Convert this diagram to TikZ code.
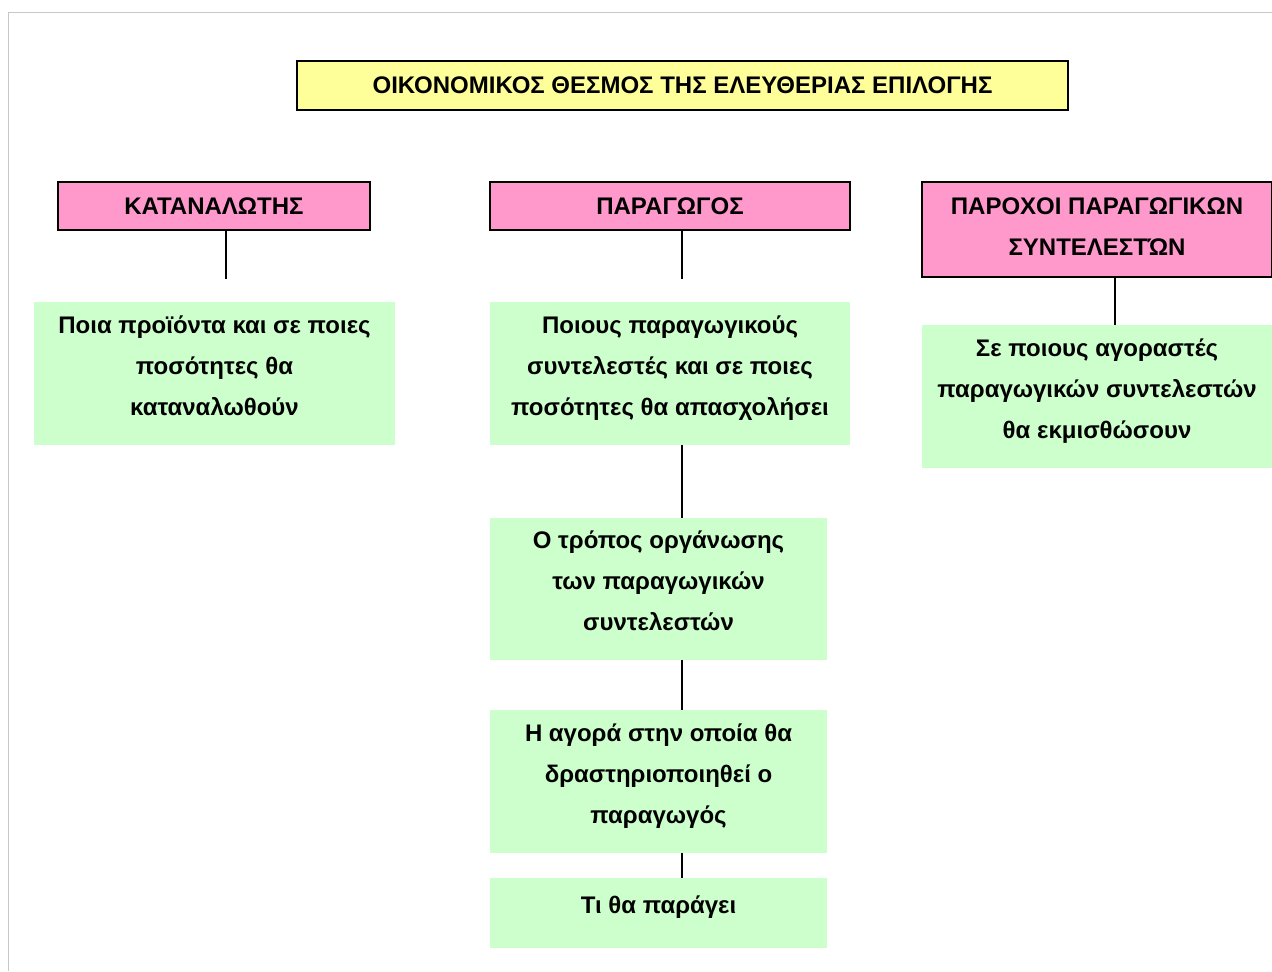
\documentclass[tikz,border=0pt]{standalone}
\usepackage{fontspec}
\setmainfont{Liberation Sans}
\definecolor{titleyellow}{HTML}{FFFF99}
\definecolor{rolepink}{HTML}{FF99CC}
\definecolor{taskgreen}{HTML}{CCFFCC}
\definecolor{framegray}{HTML}{C8C8C8}
\newcommand\padbelow[1]{\rule[-#1]{0pt}{#1}}
\begin{document}
\begin{tikzpicture}[x=0.5pt,y=-0.5pt,
 box/.style={inner sep=0pt,align=center,font=\bfseries\fontsize{12}{20.5}\selectfont},
 titlebox/.style={box,draw,line width=1pt,fill=titleyellow},
 rolebox/.style={box,draw,line width=1pt,fill=rolepink},
 taskbox/.style={box,fill=taskgreen,execute at end node=\padbelow{8pt}},
 link/.style={line width=1pt}]
 \useasboundingbox (0,0) rectangle (1272,971);
 \draw[framegray,line width=0.5pt](1272,12)--(8,12)--(8,971);
 \coordinate (katcol) at (226,0);
 \coordinate (prodcol) at (682,0);
 \coordinate (provcol) at (1115,0);
 \node[titlebox,minimum width=385.5pt,minimum height=24.5pt] (title) at (682.5,85.5) {ΟΙΚΟΝΟΜΙΚΟΣ ΘΕΣΜΟΣ ΤΗΣ ΕΛΕΥΘΕΡΙΑΣ ΕΠΙΛΟΓΗΣ};
 \node[rolebox,minimum width=156pt,minimum height=24pt] (katan) at (214,206) {ΚΑΤΑΝΑΛΩΤΗΣ};
 \node[rolebox,minimum width=180pt,minimum height=24pt] (prod) at (670,206) {ΠΑΡΑΓΩΓΟΣ};
 \node[rolebox,minimum width=175pt,minimum height=47.5pt,execute at end node=\padbelow{2.5pt}] (prov) at (1097,229.5) {ΠΑΡΟΧΟΙ ΠΑΡΑΓΩΓΙΚΩΝ\\ΣΥΝΤΕΛΕΣΤΏΝ};
 \node[taskbox,minimum width=180.5pt,minimum height=71.5pt] (task1) at (214.5,373.5) {Ποια προϊόντα και σε ποιες\\ποσότητες θα\\καταναλωθούν};
 \node[taskbox,minimum width=180pt,minimum height=71.5pt] (task2) at (670,373.5) {Ποιους παραγωγικούς\\συντελεστές και σε ποιες\\ποσότητες θα απασχολήσει};
 \node[taskbox,minimum width=168.5pt,minimum height=71pt] (task3) at (658.5,589) {Ο τρόπος οργάνωσης\\των παραγωγικών\\συντελεστών};
 \node[taskbox,minimum width=168.5pt,minimum height=71.5pt] (task4) at (658.5,781.5) {Η αγορά στην οποία θα\\δραστηριοποιηθεί ο\\παραγωγός};
 \node[taskbox,minimum width=168.5pt,minimum height=35pt] (task5) at (658.5,913) {Τι θα παράγει};
 \node[taskbox,minimum width=175pt,minimum height=71.5pt] (task6) at (1097,396.5) {Σε ποιους αγοραστές\\παραγωγικών συντελεστών\\θα εκμισθώσουν};
 \draw[link] (katan.south -| katcol) -- ++(0,48);
 \draw[link] (prod.south -| prodcol) -- ++(0,48);
 \draw[link] (task2.south -| prodcol) -- (task3.north -| prodcol);
 \draw[link] (task3.south -| prodcol) -- (task4.north -| prodcol);
 \draw[link] (task4.south -| prodcol) -- (task5.north -| prodcol);
 \draw[link] (prov.south -| provcol) -- (task6.north -| provcol);
\end{tikzpicture}
\end{document}
